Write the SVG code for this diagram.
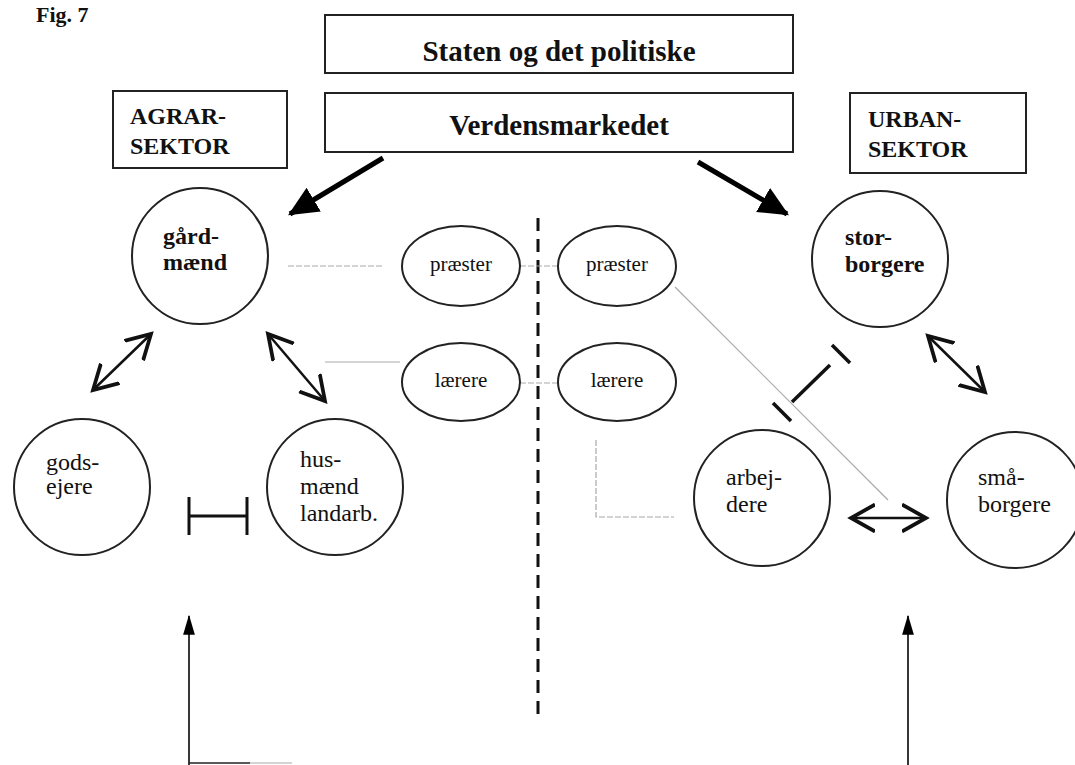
<svg xmlns="http://www.w3.org/2000/svg" width="1075" height="765" viewBox="0 0 1075 765">
<style>
.box{fill:#fff;stroke:#222;stroke-width:2}
.node{fill:#fff;stroke:#222;stroke-width:2}
text{font-family:"Liberation Serif","Times New Roman",serif;fill:#111}
.b{font-weight:bold}
.thin{stroke:#aaa;stroke-width:1.2;fill:none}
.dbl{stroke:#111;stroke-width:2.5;fill:none;marker-start:url(#v);marker-end:url(#v)}
.heavy{stroke:#000;stroke-width:5;fill:none;marker-end:url(#big)}
.up{stroke:#222;stroke-width:1.8;fill:none;marker-end:url(#small)}
.blk{stroke:#111;stroke-width:3.5;fill:none}
</style>
<defs>
<marker id="v" markerUnits="userSpaceOnUse" markerWidth="30" markerHeight="30" refX="16" refY="10" orient="auto-start-reverse" viewBox="0 0 20 20">
<path d="M0,1 L16,10 L0,19" fill="none" stroke="#111" stroke-width="2.5"/>
</marker>
<marker id="big" markerUnits="userSpaceOnUse" markerWidth="30" markerHeight="30" refX="24" refY="12" orient="auto" viewBox="0 0 26 24">
<path d="M0,0 L26,12 L0,24 Z" fill="#000"/>
</marker>
<marker id="small" markerUnits="userSpaceOnUse" markerWidth="20" markerHeight="20" refX="16" refY="5" orient="auto" viewBox="0 0 17 10">
<path d="M0,0 L17,5 L0,10 Z" fill="#000"/>
</marker>
</defs>
<rect width="1075" height="765" fill="#fff"/>
<text class="b" x="36" y="22" font-size="22" font-family="Liberation Serif, serif">Fig. 7</text>

<g id="connectors">
<line class="heavy" x1="383" y1="158" x2="290" y2="214"/>
<line class="heavy" x1="698" y1="162" x2="787" y2="214"/>
<line class="dbl" x1="93" y1="390" x2="151" y2="334"/>
<line class="dbl" x1="268" y1="334" x2="325" y2="401"/>
<line class="dbl" x1="928" y1="336" x2="985" y2="392"/>
<line class="dbl" x1="851" y1="518" x2="926" y2="518"/>
<g class="blk">
<line x1="792" y1="402" x2="830" y2="365"/>
<line x1="832" y1="345" x2="850" y2="363"/>
<line x1="773" y1="403" x2="791" y2="421"/>
</g>
<g stroke="#111" stroke-width="3" fill="none">
<line x1="189" y1="497" x2="189" y2="535"/>
<line x1="247" y1="497" x2="247" y2="535"/>
<line x1="189" y1="516" x2="247" y2="516"/>
</g>
<line x1="538" y1="218" x2="538" y2="720" stroke="#111" stroke-width="3" stroke-dasharray="13,8"/>
<g class="thin" stroke-dasharray="6,2">
<line x1="288" y1="266" x2="384" y2="266"/>
<line x1="520" y1="266" x2="558" y2="266"/>
<line x1="520" y1="383" x2="558" y2="383"/>
<polyline points="596,440 596,517 674,517"/>
</g>
<line class="thin" x1="325" y1="362" x2="400" y2="362"/>
<line class="thin" x1="270" y1="506" x2="399" y2="506"/>
<line class="thin" x1="675" y1="287" x2="888" y2="500"/>
<line class="up" x1="189" y1="765" x2="189" y2="616"/>
<line class="up" x1="908" y1="765" x2="908" y2="616"/>
<line x1="189" y1="763" x2="250" y2="763" stroke="#222" stroke-width="1.5"/>
<line x1="250" y1="763" x2="292" y2="763" class="thin"/>
</g>

<g id="staten"><rect class="box" x="325" y="15" width="468" height="58"/><text class="b" font-family="Liberation Serif, serif" x="559" y="61" font-size="29" text-anchor="middle">Staten og det politiske</text></g>
<g id="verdensmarkedet"><rect class="box" x="325" y="93" width="468" height="59"/><text class="b" font-family="Liberation Serif, serif" x="559" y="135" font-size="29" text-anchor="middle">Verdensmarkedet</text></g>
<g id="agrar"><rect class="box" x="113" y="91" width="174" height="77"/><text class="b" font-family="Liberation Serif, serif" font-size="24"><tspan x="130" y="124">AGRAR-</tspan><tspan x="130" y="154">SEKTOR</tspan></text></g>
<g id="urban"><rect class="box" x="850" y="93" width="176" height="80"/><text class="b" font-family="Liberation Serif, serif" font-size="24"><tspan x="868" y="127">URBAN-</tspan><tspan x="868" y="157">SEKTOR</tspan></text></g>

<g id="gaardmaend"><circle class="node" cx="200" cy="256" r="68"/><text class="b" font-family="Liberation Serif, serif" font-size="24"><tspan x="163" y="244">gård-</tspan><tspan x="163" y="270">mænd</tspan></text></g>
<g id="godsejere"><circle class="node" cx="82" cy="487" r="68"/><text font-family="Liberation Serif, serif" font-size="24"><tspan x="46" y="470">gods-</tspan><tspan x="46" y="494">ejere</tspan></text></g>
<g id="husmaend"><circle class="node" cx="335" cy="487" r="68"/><text font-family="Liberation Serif, serif" font-size="24"><tspan x="300" y="467">hus-</tspan><tspan x="300" y="494">mænd</tspan><tspan x="300" y="521">landarb.</tspan></text></g>
<g id="praester1"><ellipse class="node" cx="461" cy="266" rx="59" ry="40"/><text font-family="Liberation Serif, serif" x="461" y="271" font-size="21" text-anchor="middle">præster</text></g>
<g id="praester2"><ellipse class="node" cx="617" cy="266" rx="59" ry="40"/><text font-family="Liberation Serif, serif" x="617" y="271" font-size="21" text-anchor="middle">præster</text></g>
<g id="laerere1"><ellipse class="node" cx="461" cy="382" rx="59" ry="39"/><text font-family="Liberation Serif, serif" x="461" y="387" font-size="21" text-anchor="middle">lærere</text></g>
<g id="laerere2"><ellipse class="node" cx="617" cy="382" rx="59" ry="39"/><text font-family="Liberation Serif, serif" x="617" y="387" font-size="21" text-anchor="middle">lærere</text></g>
<g id="storborgere"><circle class="node" cx="880" cy="259" r="68"/><text class="b" font-family="Liberation Serif, serif" font-size="24"><tspan x="845" y="245">stor-</tspan><tspan x="845" y="272">borgere</tspan></text></g>
<g id="arbejdere"><circle class="node" cx="762" cy="498" r="68"/><text font-family="Liberation Serif, serif" font-size="24"><tspan x="726" y="485">arbej-</tspan><tspan x="726" y="512">dere</tspan></text></g>
<g id="smaaborgere"><circle class="node" cx="1015" cy="500" r="68"/><text font-family="Liberation Serif, serif" font-size="24"><tspan x="978" y="485">små-</tspan><tspan x="978" y="512">borgere</tspan></text></g>
</svg>
